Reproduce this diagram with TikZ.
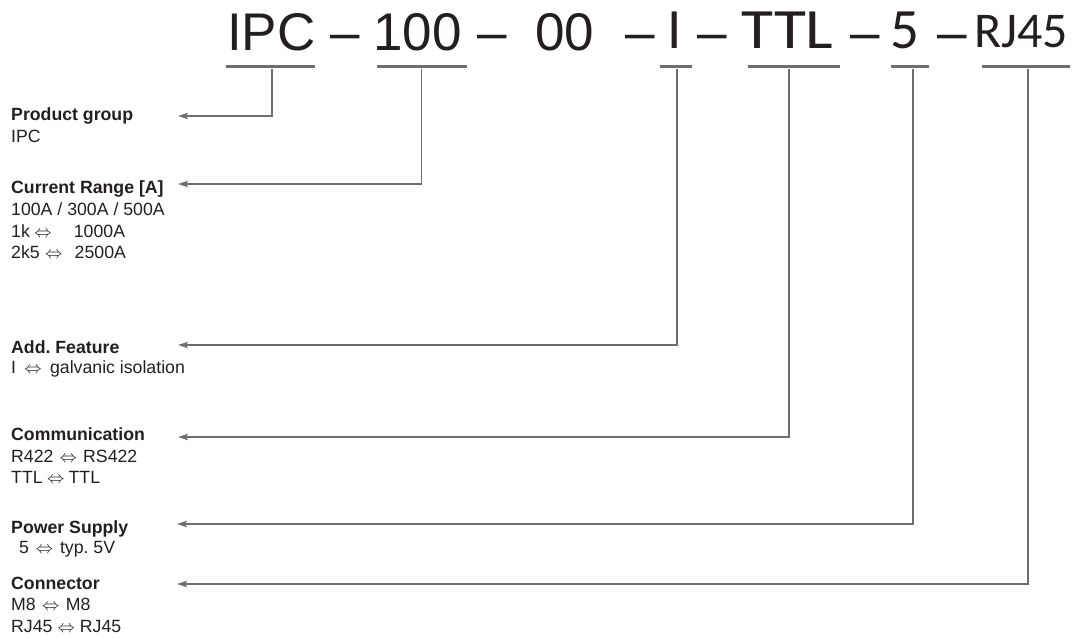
\documentclass[tikz,border=0pt]{standalone}
\usepackage{fontspec}
\setmainfont{Liberation Sans}
\newfontfamily\hdfont{Carlito}
\usetikzlibrary{arrows.meta}
\definecolor{linegrey}{HTML}{6E6E6E}
\definecolor{ink}{HTML}{231F20}
% thin double arrow centred in a box of the given width
\newcommand{\eqv}[1]{\makebox[#1pt]{\fontsize{17}{17}\selectfont$\Leftrightarrow$}}
\frenchspacing
\begin{document}
\begin{tikzpicture}[x=1pt,y=-1pt,
  hdA/.style={anchor=base west,inner sep=0,text=ink,font=\fontsize{53}{53}\selectfont},
  hdB/.style={anchor=base west,inner sep=0,text=ink,font=\hdfont\fontsize{57}{57}\selectfont},
  hdC/.style={anchor=base west,inner sep=0,text=ink,font=\hdfont\fontsize{50}{50}\selectfont},
  bar/.style={fill=linegrey,inner sep=0,minimum height=3.6pt},
  ttl/.style={anchor=base west,inner sep=0,text=ink,font=\bfseries\fontsize{17.7}{21}\selectfont},
  txt/.style={anchor=base west,inner sep=0,text=ink,font=\fontsize{17.7}{21}\selectfont},
  conn/.style={draw=linegrey,line width=1.5pt,
    -{Stealth[length=10pt,width=6.5pt,inset=2pt]}}]
\useasboundingbox (0,0) rectangle (1074,638);

% code line
\node[hdA] (hIPC) at (227,50) {IPC};
\node[hdA] (d1)   at (330,50) {–};
\node[hdA] (h100) at (373,50) {100};
\node[hdA] (d2)   at (477,50) {–};
\node[hdA] (h00)  at (535,50) {00};
\node[hdA] (d3)   at (625,50) {–};
\node[hdB] (hI)   at (667,48) {I};
\node[hdA] (d4)   at (697,50) {–};
\node[hdB,xscale=1.15] (hTTL) at (741,48) {TTL};
\node[hdA] (d5)   at (850,50) {–};
\node[hdB] (h5)   at (890,48) {5};
\node[hdA] (d6)   at (937,50) {–};
\node[hdC] (hRJ)  at (974,47) {RJ45};

% underline bars
\node[bar,minimum width=89pt] (bIPC) at (270.5,66.5) {};
\node[bar,minimum width=90pt] (b100) at (422,66.5) {};
\node[bar,minimum width=32pt] (bI)   at (676,66.5) {};
\node[bar,minimum width=92pt] (bTTL) at (794,66.5) {};
\node[bar,minimum width=38pt] (b5)   at (910,66.5) {};
\node[bar,minimum width=88pt] (bRJ)  at (1026,66.5) {};

% field descriptions
\node[ttl] (pg)  at (11,120) {Product group};
\node[txt] (pg1) at (11,142) {IPC};

\node[ttl] (cr)  at (11,193) {Current Range [A]};
\node[txt] (cr1) at (11,215) {100A / 300A / 500A};
\node[txt] (cr2) at (11,237) {1k\hspace{3pt}\eqv{20}\hspace{21pt}1000A};
\node[txt] (cr3) at (11,258) {2k5\hspace{3pt}\eqv{22}\hspace{10pt}2500A};

\node[ttl] (af)  at (11,353) {Add. Feature};
\node[txt] (af1) at (11,373) {I\hspace{7pt}\eqv{20}\hspace{7pt}galvanic isolation};

\node[ttl] (co)  at (11,440) {Communication};
\node[txt] (co1) at (11,462) {R422\eqv{29.7}RS422};
\node[txt] (co2) at (11,483) {TTL\eqv{26}TTL};

\node[ttl] (ps)  at (11,533) {Power Supply};
\node[txt] (ps1) at (19,553) {5\eqv{31}typ. 5V};

\node[ttl] (cn)  at (11,589) {Connector};
\node[txt] (cn1) at (11,610) {M8\eqv{30}M8};
\node[txt] (cn2) at (11,632) {RJ45\eqv{27.4}RJ45};

% arrow tips beside the headings
\coordinate (tPG) at (178,116);
\coordinate (tCR) at (178,184);
\coordinate (tAF) at (178,345);
\coordinate (tCO) at (178,437);
\coordinate (tPS) at (177,524);
\coordinate (tCN) at (177,584);

% connectors
\draw[conn] ([xshift=1.5pt]bIPC.south) |- (tPG);
\draw[conn] ([xshift=-0.5pt]b100.south) |- (tCR);
\draw[conn] ([xshift=1pt]bI.south) |- (tAF);
\draw[conn] ([xshift=-5pt]bTTL.south) |- (tCO);
\draw[conn] ([xshift=3pt]b5.south) |- (tPS);
\draw[conn] ([xshift=2pt]bRJ.south) |- (tCN);
\end{tikzpicture}
\end{document}
